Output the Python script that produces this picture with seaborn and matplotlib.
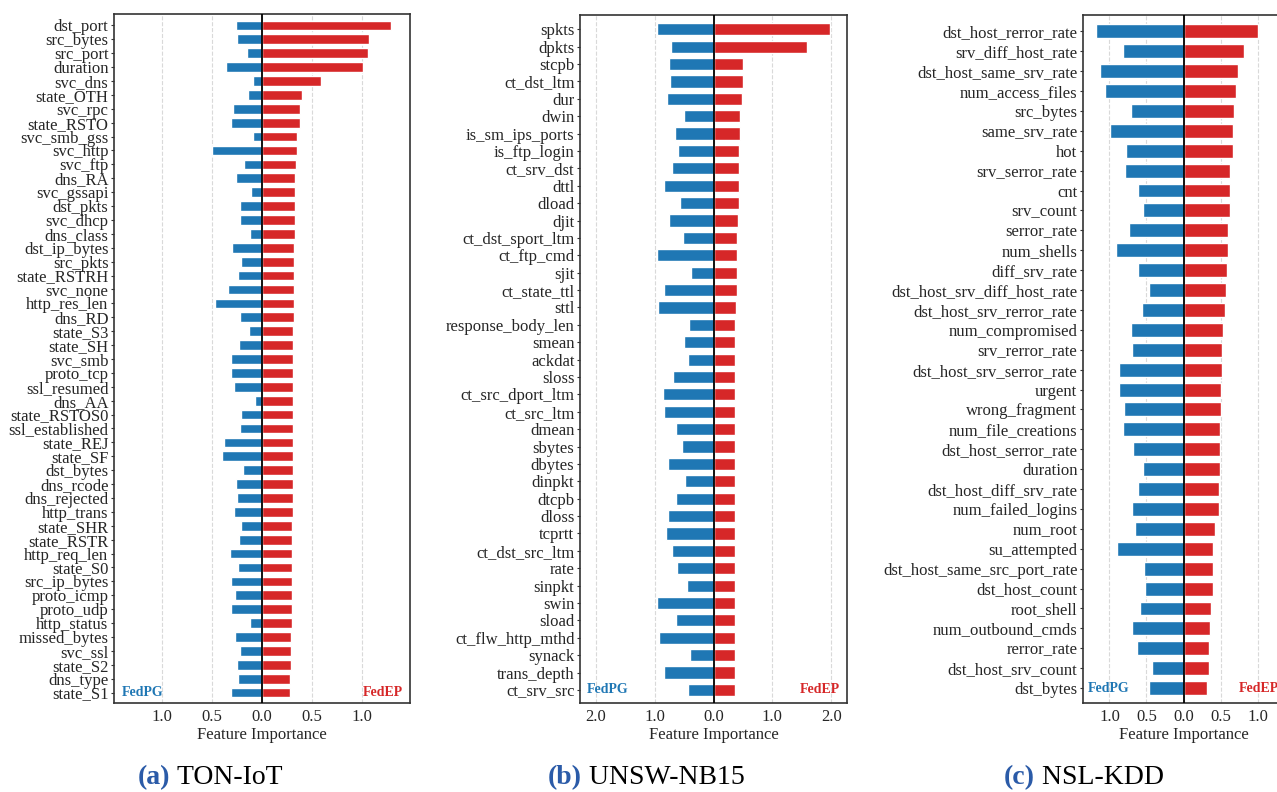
import numpy as np
import pandas as pd
import matplotlib
matplotlib.use("Agg")
import matplotlib.pyplot as plt
import seaborn as sns
from matplotlib.ticker import FuncFormatter

# ---------------- data ----------------
ton_features = ["dst_port", "src_bytes", "src_port", "duration", "svc_dns", "state_OTH", "svc_rpc",
                "state_RSTO", "svc_smb_gss", "svc_http", "svc_ftp", "dns_RA", "svc_gssapi", "dst_pkts",
                "svc_dhcp", "dns_class", "dst_ip_bytes", "src_pkts", "state_RSTRH", "svc_none",
                "http_res_len", "dns_RD", "state_S3", "state_SH", "svc_smb", "proto_tcp", "ssl_resumed",
                "dns_AA", "state_RSTOS0", "ssl_established", "state_REJ", "state_SF", "dst_bytes",
                "dns_rcode", "dns_rejected", "http_trans", "state_SHR", "state_RSTR", "http_req_len",
                "state_S0", "src_ip_bytes", "proto_icmp", "proto_udp", "http_status", "missed_bytes",
                "svc_ssl", "state_S2", "dns_type", "state_S1"]
ton_fedep = [1.283, 1.063, 1.053, 1.003, 0.593, 0.403, 0.383, 0.383, 0.353, 0.353, 0.343, 0.333, 0.333,
             0.333, 0.333, 0.333, 0.323, 0.323, 0.323, 0.323, 0.323, 0.323, 0.313, 0.313, 0.313, 0.313,
             0.313, 0.313, 0.313, 0.313, 0.313, 0.313, 0.313, 0.313, 0.313, 0.313, 0.303, 0.303, 0.303,
             0.303, 0.303, 0.303, 0.303, 0.303, 0.293, 0.293, 0.293, 0.283, 0.283]
ton_fedpg = [0.257, 0.247, 0.147, 0.357, 0.087, 0.137, 0.287, 0.307, 0.087, 0.497, 0.177, 0.257, 0.107,
             0.217, 0.217, 0.117, 0.297, 0.207, 0.237, 0.337, 0.467, 0.217, 0.127, 0.227, 0.307, 0.307,
             0.277, 0.067, 0.207, 0.217, 0.377, 0.397, 0.187, 0.257, 0.247, 0.277, 0.207, 0.227, 0.317,
             0.237, 0.307, 0.267, 0.307, 0.117, 0.267, 0.217, 0.247, 0.237, 0.307]

unsw_features = ["spkts", "dpkts", "stcpb", "ct_dst_ltm", "dur", "dwin", "is_sm_ips_ports", "is_ftp_login",
                 "ct_srv_dst", "dttl", "dload", "djit", "ct_dst_sport_ltm", "ct_ftp_cmd", "sjit",
                 "ct_state_ttl", "sttl", "response_body_len", "smean", "ackdat", "sloss", "ct_src_dport_ltm",
                 "ct_src_ltm", "dmean", "sbytes", "dbytes", "dinpkt", "dtcpb", "dloss", "tcprtt",
                 "ct_dst_src_ltm", "rate", "sinpkt", "swin", "sload", "ct_flw_http_mthd", "synack",
                 "trans_depth", "ct_srv_src"]
unsw_fedep = [1.972, 1.588, 0.503, 0.503, 0.486, 0.452, 0.452, 0.435, 0.435, 0.435, 0.435, 0.418, 0.401,
              0.401, 0.401, 0.401, 0.384, 0.367, 0.367, 0.367, 0.367, 0.367, 0.367, 0.367, 0.367, 0.367,
              0.367, 0.367, 0.367, 0.367, 0.367, 0.367, 0.367, 0.367, 0.367, 0.367, 0.367, 0.367, 0.367]
unsw_fedpg = [0.955, 0.718, 0.751, 0.734, 0.785, 0.497, 0.650, 0.599, 0.701, 0.836, 0.565, 0.751, 0.514,
              0.955, 0.379, 0.836, 0.938, 0.412, 0.497, 0.429, 0.684, 0.853, 0.836, 0.633, 0.531, 0.768,
              0.480, 0.633, 0.768, 0.802, 0.701, 0.616, 0.446, 0.955, 0.633, 0.921, 0.395, 0.836, 0.429]

nsl_features = ["dst_host_rerror_rate", "srv_diff_host_rate", "dst_host_same_srv_rate", "num_access_files",
                "src_bytes", "same_srv_rate", "hot", "srv_serror_rate", "cnt", "srv_count", "serror_rate",
                "num_shells", "diff_srv_rate", "dst_host_srv_diff_host_rate", "dst_host_srv_rerror_rate",
                "num_compromised", "srv_rerror_rate", "dst_host_srv_serror_rate", "urgent", "wrong_fragment",
                "num_file_creations", "dst_host_serror_rate", "duration", "dst_host_diff_srv_rate",
                "num_failed_logins", "num_root", "su_attempted", "dst_host_same_src_port_rate",
                "dst_host_count", "root_shell", "num_outbound_cmds", "rerror_rate", "dst_host_srv_count",
                "dst_bytes"]
nsl_fedep = [1.005, 0.820, 0.739, 0.712, 0.685, 0.671, 0.671, 0.631, 0.631, 0.631, 0.604, 0.604, 0.590,
             0.577, 0.563, 0.536, 0.523, 0.523, 0.509, 0.509, 0.495, 0.495, 0.495, 0.482, 0.482, 0.428,
             0.401, 0.401, 0.401, 0.374, 0.360, 0.347, 0.347, 0.320]
nsl_fedpg = [1.180, 0.815, 1.126, 1.059, 0.707, 0.991, 0.775, 0.788, 0.613, 0.545, 0.734, 0.910, 0.613,
             0.464, 0.559, 0.707, 0.694, 0.869, 0.869, 0.802, 0.815, 0.680, 0.545, 0.613, 0.694, 0.653,
             0.896, 0.532, 0.518, 0.586, 0.694, 0.626, 0.423, 0.464]

panel_letters = ["(a)", "(b)", "(c)"]
panel_names = ["TON-IoT", "UNSW-NB15", "NSL-KDD"]
panel_ticks = [[-1.0, -0.5, 0.0, 0.5, 1.0], [-2.0, -1.0, 0.0, 1.0, 2.0], [-1.0, -0.5, 0.0, 0.5, 1.0]]

# ---------------- style ----------------
sns.set_style("white")
plt.rcParams["font.family"] = ["Liberation Serif", "DejaVu Serif"]
plt.rcParams["mathtext.fontset"] = "stix"

BLUE = "#1f77b4"
RED = "#d62728"
CAP_BLUE = "#2b5ba8"

fig = plt.figure(figsize=(12.77, 7.92), dpi=100)
W, H = 1277.0, 792.0

# axes boxes in pixels: left, right, top, bottom
boxes = [(114, 410, 14, 703), (580, 847, 15, 703), (1083, 1284, 15, 703)]
cap_centers = [210, 646, 1084]

datasets = [(ton_features, ton_fedpg, ton_fedep),
            (unsw_features, unsw_fedpg, unsw_fedep),
            (nsl_features, nsl_fedpg, nsl_fedep)]

for i, ((feats, pg, ep), (l, r, t, b)) in enumerate(zip(datasets, boxes)):
    ax = fig.add_axes([l / W, 1 - b / H, (r - l) / W, (b - t) / H])
    n = len(feats)
    df = pd.DataFrame({"feature": feats, "FedPG": -np.array(pg), "FedEP": np.array(ep)})
    sns.barplot(data=df, x="FedPG", y="feature", orient="h", color=BLUE, saturation=1,
                width=0.7, ax=ax, zorder=2)
    sns.barplot(data=df, x="FedEP", y="feature", orient="h", color=RED, saturation=1,
                width=0.7, ax=ax, zorder=2)
    lim = max(max(pg), max(ep)) * 1.15
    ax.set_xlim(-lim, lim)
    ax.set_ylim(n - 1 + 0.75, -0.82)
    ax.axvline(0, color="black", lw=1.3, zorder=3)
    ax.set_xticks(panel_ticks[i])
    ax.xaxis.set_major_formatter(FuncFormatter(lambda v, p: f"{abs(v):.1f}"))
    ax.grid(axis="x", linestyle="--", color="#d9d9d9", lw=0.8)
    ax.grid(axis="y", visible=False)
    ax.set_axisbelow(True)
    ax.set_xlabel("Feature Importance", fontsize=12, labelpad=2)
    ax.set_ylabel("")
    ax.tick_params(axis="y", labelsize=12, length=2.5, width=0.8, pad=1.5, left=True, color="#333333")
    ax.tick_params(axis="x", labelsize=12, length=0, pad=4)
    for s in ax.spines.values():
        s.set_color("#333333")
        s.set_linewidth(1.2)
    ax.text(0.025, n - 1, "FedPG", transform=ax.get_yaxis_transform(), ha="left", va="center",
            color=BLUE, fontsize=10, fontweight="bold")
    ax.text(0.975, n - 1, "FedEP", transform=ax.get_yaxis_transform(), ha="right", va="center",
            color=RED, fontsize=10, fontweight="bold")

# captions
fig.canvas.draw()
renderer = fig.canvas.get_renderer()
for letter, name, cx in zip(panel_letters, panel_names, cap_centers):
    t1 = fig.text(0, 8 / H, letter, fontsize=20, fontweight="bold", color=CAP_BLUE,
                  ha="left", va="baseline")
    t2 = fig.text(0, 8 / H, "\u00a0" + name, fontsize=20, color="black", ha="left", va="baseline")
    w1 = t1.get_window_extent(renderer).width
    w2 = t2.get_window_extent(renderer).width
    x0 = cx - (w1 + w2) / 2
    t1.set_x(x0 / W)
    t2.set_x((x0 + w1) / W)

fig.savefig("out.png", dpi=100)
